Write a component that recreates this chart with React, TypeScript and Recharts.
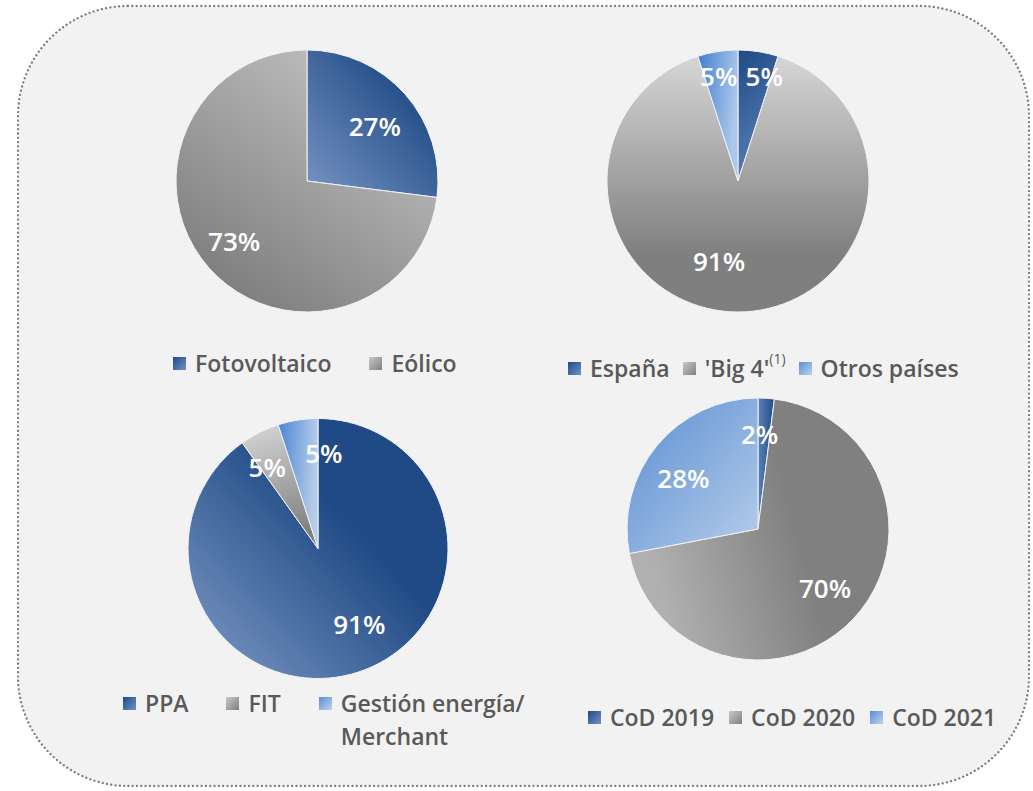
import { PieChart, Pie, Cell, Legend } from 'recharts'

// data
const techNames = ['Fotovoltaico', 'Eólico']
const techValues = [27, 73]
const countryNames = ['España', "'Big 4'", 'Otros países']
const countryValues = [5, 91, 5]
const contractNames = ['PPA', 'FIT', 'Gestión energía/\nMerchant']
const contractValues = [91, 5, 5]
const codNames = ['CoD 2019', 'CoD 2020', 'CoD 2021']
const codValues = [2, 70, 28]

const FONT = '"Open Sans", "Noto Sans", sans-serif'
const TEXT = '#595959'
const RAD = Math.PI / 180

const toRows = (names: string[], values: number[]) =>
  names.map((name, i) => ({ name, value: values[i] }))

// hand nudges so labels sit where Excel's "best fit" put them
const LABEL_SHIFT = {
  tech: [[3, 2], [-8, 3]],
  country: [[10, -1], [-19, -6], [-3, -1]],
  contract: [[15, -6], [-4, 11], [22, 7]],
  cod: [[-5, 10], [4, 0], [-8, 4]],
}

function makeLabel(shift: number[][]) {
  return (props: any) => {
    const { cx, cy, midAngle, outerRadius, value, percent, index } = props
    const k = percent < 0.1 ? 0.8 : 0.66
    const r = outerRadius * k
    const [dx, dy] = shift[index] || [0, 0]
    const x = cx + r * Math.cos(-midAngle * RAD) + dx
    const y = cy + r * Math.sin(-midAngle * RAD) + dy
    return (
      <text
        x={x}
        y={y}
        fill="#fff"
        textAnchor="middle"
        dominantBaseline="central"
        fontFamily={FONT}
        fontSize={26}
        fontWeight={600}
      >
        {value}%
      </text>
    )
  }
}

interface BlockProps {
  names: string[]
  values: number[]
  fills: string[]
  keys: string[]
  shift: number[][]
  left: number
  top: number
  width: number
  height: number
  cx: number
  cy: number
  r: number
  legendLeft: number
  legendTop: number
  legendGap: number
}

function LegendRow({ names, keys, gap }: { names: string[]; keys: string[]; gap: number }) {
  return (
    <div style={{ display: 'flex', alignItems: 'flex-start', gap, fontFamily: FONT, fontSize: 23, fontWeight: 600, color: TEXT, lineHeight: '33px' }}>
      {names.map((n, i) => (
        <div key={n} style={{ display: 'flex', alignItems: 'flex-start' }}>
          <svg width={13} height={13} style={{ marginTop: 10, marginRight: 9, flex: 'none' }}>
            <rect width={13} height={13} fill={`url(#${keys[i]})`} />
          </svg>
          <span style={{ whiteSpace: 'pre' }}>
            {n}
            {n === "'Big 4'" && (
              <sup style={{ fontSize: 14, fontWeight: 400, marginLeft: 0, verticalAlign: 0, position: 'relative', top: -13 }}>(1)</sup>
            )}
          </span>
        </div>
      ))}
    </div>
  )
}

function PieBlock(p: BlockProps) {
  const rows = toRows(p.names, p.values)
  return (
    <div style={{ position: 'absolute', left: p.left, top: p.top }}>
      <PieChart width={p.width} height={p.height} margin={{ top: 0, right: 0, bottom: 0, left: 0 }}>
        <Pie
          data={rows}
          dataKey="value"
          nameKey="name"
          cx={p.cx}
          cy={p.cy}
          outerRadius={p.r}
          startAngle={90}
          endAngle={-270}
          stroke="#f2f2f2"
          strokeWidth={1}
          label={makeLabel(p.shift)}
          labelLine={false}
          isAnimationActive={false}
        >
          {rows.map((row, i) => (
            <Cell key={row.name} fill={`url(#${p.fills[i]})`} />
          ))}
        </Pie>
        <Legend
          verticalAlign="bottom"
          align="left"
          wrapperStyle={{ left: p.legendLeft, top: p.legendTop, bottom: 'auto', width: 'auto' }}
          content={() => <LegendRow names={p.names} keys={p.keys} gap={p.legendGap} />}
        />
      </PieChart>
    </div>
  )
}

function Grad({ id, x1, y1, x2, y2, from, to, o1 = 0, o2 = 1 }: any) {
  return (
    <linearGradient id={id} x1={x1} y1={y1} x2={x2} y2={y2}>
      <stop offset={o1} stopColor={from} />
      <stop offset={o2} stopColor={to} />
    </linearGradient>
  )
}

export default function App() {
  return (
    <div style={{ position: 'absolute', left: 0, top: 0, width: 1033, height: 791, background: '#fff', overflow: 'hidden' }}>
      <svg width={1033} height={791} style={{ position: 'absolute', left: 0, top: 0 }}>
        <defs>
          {/* slice gradients */}
          <Grad id="fotoG" x1={1} y1={0} x2={0} y2={1} from="#1f4a85" to="#7895c4" o1={0.2} />
          <Grad id="eolG" x1={0.85} y1={0.05} x2={0.2} y2={0.95} from="#c4c4c4" to="#7d7d7d" />
          <Grad id="espG" x1={0} y1={0} x2={0.3} y2={1} from="#1f4a85" to="#5a7fb8" />
          <Grad id="big4G" x1={0} y1={0} x2={0} y2={1} from="#d6d6d6" to="#7f7f7f" o2={0.78} />
          <Grad id="otrG" x1={0} y1={0} x2={1} y2={0.3} from="#3f7fcf" to="#adc8ec" />
          <Grad id="ppaG" x1={0.9} y1={0.15} x2={0} y2={1} from="#1f4a85" to="#7f9bc6" o1={0.3} />
          <Grad id="fitG" x1={0} y1={0} x2={0.2} y2={1} from="#d8d8d8" to="#7f7f7f" />
          <Grad id="gesG" x1={0} y1={0} x2={1} y2={0.2} from="#4a86d2" to="#b6cdea" />
          <Grad id="c19G" x1={0} y1={0} x2={1} y2={0} from="#5a80b8" to="#1f4a85" />
          <Grad id="c20G" x1={0} y1={0.3} x2={0.55} y2={0.15} from="#b0b0b0" to="#808080" />
          <Grad id="c21G" x1={0} y1={0} x2={1} y2={1} from="#5a8ed2" to="#b6cdea" />
          {/* legend swatches */}
          <Grad id="lgBlue" x1={0} y1={0} x2={1} y2={1} from="#1f4a85" to="#6f92c8" />
          <Grad id="lgGray" x1={0} y1={0} x2={1} y2={1} from="#c8c8c8" to="#808080" />
          <Grad id="lgLight" x1={0} y1={0} x2={1} y2={1} from="#5a8ed2" to="#bcd2ee" />
        </defs>
        <rect
          x={18}
          y={6}
          width={1011}
          height={780}
          rx={110}
          ry={110}
          fill="#f2f2f2"
          stroke="#7a7a7a"
          strokeWidth={2.3}
          strokeDasharray="0.01 4.3"
          strokeLinecap="round"
        />
      </svg>

      <PieBlock
        names={techNames}
        values={techValues}
        fills={['fotoG', 'eolG']}
        keys={['lgBlue', 'lgGray']}
        shift={LABEL_SHIFT.tech}
        left={80}
        top={20}
        width={460}
        height={380}
        cx={227}
        cy={161}
        r={131}
        legendLeft={93}
        legendTop={327}
        legendGap={38}
      />
      <PieBlock
        names={countryNames}
        values={countryValues}
        fills={['espG', 'big4G', 'otrG']}
        keys={['lgBlue', 'lgGray', 'lgLight']}
        shift={LABEL_SHIFT.country}
        left={540}
        top={20}
        width={470}
        height={380}
        cx={198}
        cy={161}
        r={131}
        legendLeft={28}
        legendTop={332}
        legendGap={13}
      />
      <PieBlock
        names={contractNames}
        values={contractValues}
        fills={['ppaG', 'fitG', 'gesG']}
        keys={['lgBlue', 'lgGray', 'lgLight']}
        shift={LABEL_SHIFT.contract}
        left={80}
        top={390}
        width={460}
        height={390}
        cx={238}
        cy={158.5}
        r={130}
        legendLeft={43}
        legendTop={297}
        legendGap={38}
      />
      <PieBlock
        names={codNames}
        values={codValues}
        fills={['c19G', 'c20G', 'c21G']}
        keys={['lgBlue', 'lgGray', 'lgLight']}
        shift={LABEL_SHIFT.cod}
        left={540}
        top={380}
        width={480}
        height={380}
        cx={218}
        cy={149}
        r={131}
        legendLeft={48}
        legendTop={321}
        legendGap={15}
      />
    </div>
  )
}
